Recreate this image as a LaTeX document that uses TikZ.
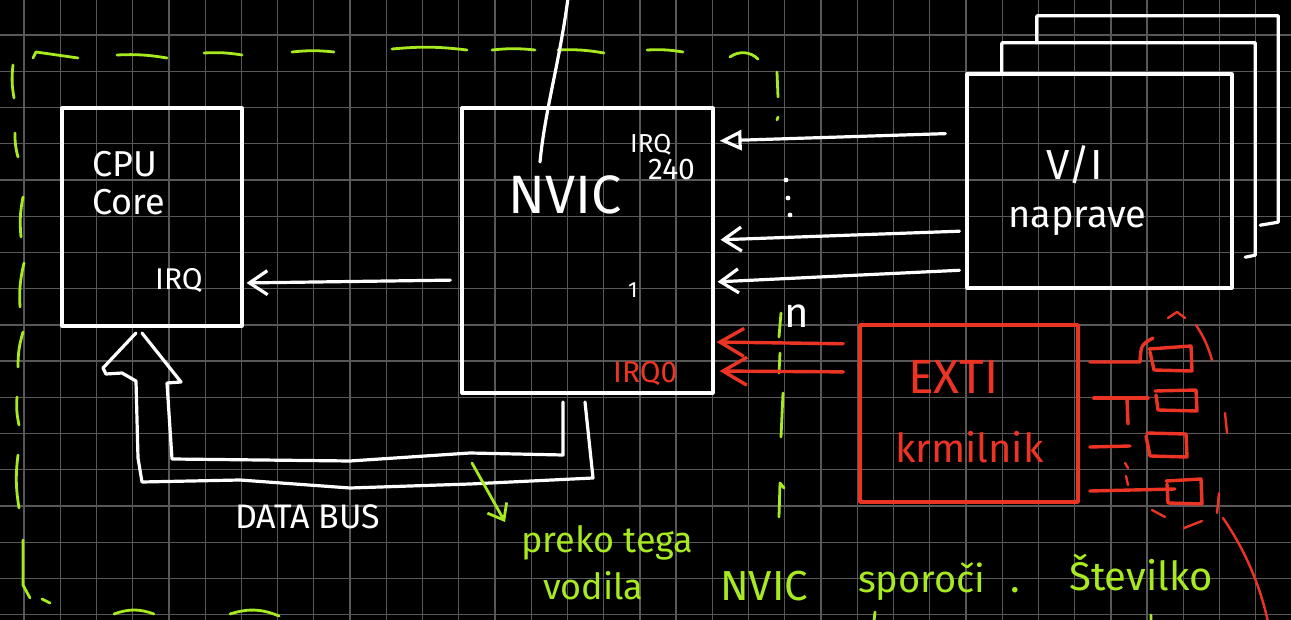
\documentclass[tikz,border=0pt]{standalone}
\usepackage{fontspec}
\setmainfont{Fira Sans}
\usetikzlibrary{arrows.meta}
\definecolor{gridc}{RGB}{88,88,88}
\definecolor{lime}{RGB}{168,234,32}
\definecolor{redd}{RGB}{236,52,36}
\begin{document}
\begin{tikzpicture}[x=1pt,y=-1pt,
  wline/.style={white,line width=3.2pt,line cap=round,line join=round},
  rline/.style={redd,line width=3.4pt,line cap=round,line join=round},
  gline/.style={lime,line width=2.8pt,line cap=round,line join=round},
  box/.style={draw=white,line width=3.2pt,rectangle,inner sep=0pt,line join=round},
  ghost/.style={rectangle,inner sep=0pt},
  rbox/.style={draw=redd,line width=3.6pt,rectangle,inner sep=0pt,line join=round},
  fsz/.style={font=\fontsize{#1pt}{#1pt}\selectfont},
  wt/.style={white,inner sep=0pt,anchor=base west},
  rt/.style={redd,inner sep=0pt,anchor=base west},
  gt/.style={lime,inner sep=0pt,anchor=base west},
  wbarb/.style={-{Straight Barb[length=18pt,width=24pt]}},
  wtri/.style={-{Triangle[open,length=22pt,width=20pt]}},
  rbarb/.style={-{Straight Barb[length=24pt,width=28pt]}},
  gbarb/.style={-{Straight Barb[length=14pt,width=22pt]}}
]
\useasboundingbox (0,0) rectangle (1291,620);
\fill[black] (0,0) rectangle (1291,620);
% grid
\foreach \i in {0,...,35} \draw[gridc,line width=1.3pt] ({24+36.23*\i},0) -- ++(0,620);
\foreach \j in {1,...,17} \draw[gridc,line width=1.3pt] (0,{-1.2+36.23*\j}) -- ++(1291,0);

% green dashed frame
\draw[gline] (33,58) -- (36,52) -- (78,58);
\foreach \a/\b/\c/\d in {117/55/167/58, 204/53/242/55, 292/52/334/52, 392/49/467/50, 492/50/535/50, 558/50/604/53, 647/50/683/52}
  \draw[gline] (\a,\b) to[bend left=6] (\c,\d);
\draw[gline] (730,57) to[bend left=40] (758,59);
\foreach \a/\b/\c/\d in {13/65/14/98, 15/133/18/157, 23/197/21/237, 24/263/20/307, 23/332/18/367, 17/397/19/425, 18/455/19/508}
  \draw[gline] (\a,\b) to[bend right=8] (\c,\d);
\draw[gline] (23,540) -- (23,585) -- (30,598) (42,599) -- (50,603);
\draw[gline] (114,614) to[bend left=20] (154,614);
\draw[gline] (230,614) to[bend left=20] (279,616);
\foreach \a/\b/\c/\d in {777/72/778/97, 778/117/777/120, 781/313/779/337, 780/353/779/373, 783/393/781/437}
  \draw[gline] (\a,\b) -- (\c,\d);
\draw[gline] (784,488) -- (780,483) -- (779,517);
\draw[gline] (875,612) -- (874,621) (1151,615) -- (1151,621);

% boxes
\node[box,minimum width=180pt,minimum height=218pt] (cpu) at (152,217) {};
\node[box,minimum width=251pt,minimum height=285pt] (nvic) at (587.5,250.5) {};
\node[box,minimum width=265pt,minimum height=214pt] (io) at (1099.5,181) {};
\node[ghost,minimum width=253pt,minimum height=212pt] (io2) at (1128.5,149) {};
\node[ghost,minimum width=241pt,minimum height=206pt] (io3) at (1157.5,119) {};
\node[rbox,minimum width=218pt,minimum height=177pt] (exti) at (969,413.5) {};
\draw[wline] (io2.north west |- io.north) -- (io2.north west) -- (io2.north east) -- (io2.south east) -- ++(-10,2);
\draw[wline] (io3.north west |- io2.north) -- (io3.north west) -- (io3.north east) -- (io3.south east) -- ++(-18,3);

% line through top of NVIC
\draw[wline] (568,-2) .. controls (560,60) and (545,110) .. (540,162);

% texts
\node[wt,fsz=36] (cpuT) at (92,177) {CPU};
\node[wt,fsz=36] (coreT) at (92,215) {Core};
\node[wt,fsz=30] (cpuirq) at (155,290) {IRQ};
\node[wt,fsz=54] (nvicT) at (508,214) {NVIC};
\node[wt,fsz=26] (irq240a) at (630,153) {IRQ};
\node[wt,fsz=30] (irq240b) at (648,180) {240};
\node[wt,fsz=22] (irq1) at (628,298) {1};
\node[rt,fsz=30] (irq0) at (613,382) {IRQ0};
\node[wt,fsz=42] (vi) at (1046,180) {V/I};
\node[wt,fsz=38] (napr) at (1008,228) {naprave};
\node[rt,fsz=48] (extiT) at (908,393) {EXTI};
\node[rt,fsz=40] (krm) at (895,462) {krmilnik};
\node[wt,fsz=34] (dbus) at (235,528) {DATA BUS};
\node[wt,fsz=42] (nmark) at (784,328) {n};
\node[gt,fsz=36] (note1) at (521,552) {preko tega};
\node[gt,fsz=36] (note2) at (543,599) {vodila};
\node[gt,fsz=42] (note3) at (720,600) {NVIC};
\node[gt,fsz=38] (note4) at (858,592) {sporoči};
\node[gt,fsz=40] (note5) at (1010,592) {.};
\node[gt,fsz=40] (note6) at (1069,590) {Številko};

% vertical dots
\foreach \p in {(786,180),(788,198),(790,215)} \fill[white] \p circle (2.4);

% arrows I/O -> NVIC
\draw[wline,wtri,shorten <=20pt,shorten >=5pt] (io.west |- 0,133) -- (nvic.east |- 0,141);
\draw[wline,wbarb,shorten <=6pt,shorten >=6pt] (io.west |- 0,231) -- (nvic.east |- 0,240);
\draw[wline,wbarb,shorten <=6pt,shorten >=3pt] (io.west |- 0,270) -- (nvic.east |- 0,282);
% NVIC -> CPU
\draw[wline,wbarb,shorten <=10pt,shorten >=3pt] (nvic.west |- 0,280) -- (cpu.east |- 0,283);
% EXTI -> NVIC
\draw[rline,rbarb,shorten <=15pt,shorten >=2pt] (exti.west |- 0,344) -- (nvic.east |- 0,342);
\draw[rline,rbarb,shorten <=15pt,shorten >=5pt] (exti.west |- 0,372) -- (nvic.east |- 0,371);

% data bus (hollow arrow NVIC -> CPU)
\draw[wline] (563,402) -- (563,455) -- (470,453) -- (350,461) -- (172,459) -- (167,383) -- (181,382) -- (142,333)
  (136,333) -- (103,368) -- (106,374) -- (122,373) -- (136,381) -- (138,458) -- (142,482) -- (240,480) -- (350,488) -- (470,484) -- (593,478) -- (585,402);
% green pointer
\coordinate (gA) at (472,463);
\coordinate (gB) at (505,522);
\draw[gline,gbarb] (gA) -- (gB);

% EXTI outputs
\draw[rline] (exti.east |- 0,362) ++(10,0) -- (1140,362) .. controls (1141,345) .. (1153,338);
\draw[rline] (1149,349) -- (1191,346) -- (1192,371) -- (1154,370) -- (1150,352);
\draw[rline] (exti.east |- 0,398) ++(14,0) -- (1148,398);
\draw[rline] (1127,399) -- (1128,424);
\draw[rline] (1155,391) -- (1196,390) -- (1197,411) -- (1158,410) -- (1156,395);
\draw[rline] (exti.east |- 0,447) ++(10,0) -- (1130,446);
\draw[rline] (1147,433) -- (1186,434) -- (1187,457) -- (1150,456) -- (1146,436);
\draw[rline] (exti.east |- 0,491) ++(10,0) -- (1175,489);
\draw[rline] (1166,481) -- (1201,479) -- (1202,504) -- (1168,503) -- (1167,484);
\draw[rline,line width=2.4pt] (1125,463) -- (1128,468) (1126,476) -- (1128,485);
% dashed red outline
\draw[rline,line width=2.4pt] (1168,318) -- (1177,312) -- (1185,318);
\draw[rline,line width=2.4pt] (1196,325) to[bend left=8] (1212,360);
\draw[rline,line width=2.4pt] (1225,413) -- (1227,433);
\draw[rline,line width=2.4pt] (1219,493) -- (1217,513);
\draw[rline,line width=2.4pt] (1152,510) -- (1165,517);
\draw[rline,line width=2.4pt] (1184,528) -- (1202,521);
\draw[rline,line width=2.4pt] (1223,518) .. controls (1245,550) and (1260,585) .. (1268,622);
\end{tikzpicture}
\end{document}
